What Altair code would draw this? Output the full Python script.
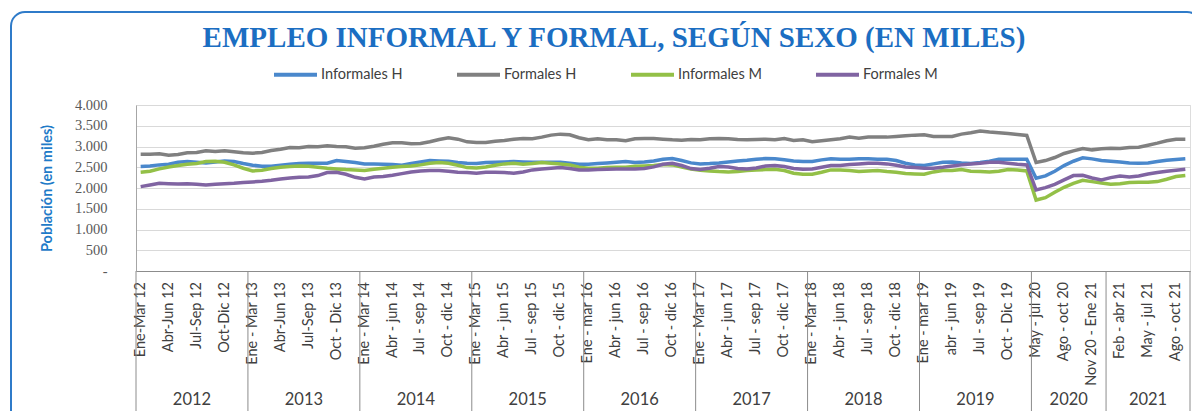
import altair as alt
import pandas as pd

TITLE = "EMPLEO INFORMAL Y FORMAL, SEGÚN SEXO (EN MILES)"
Y_TITLE = "Población (en miles)"

SERIES = ["Informales H", "Formales H", "Informales M", "Formales M"]
COLORS = ["#4A88CC", "#808080", "#93C047", "#8064A2"]

PERIODS = [
    # 2012
    "Ene-Mar 12", "Feb-Abr 12", "Mar-May 12", "Abr-Jun 12", "May-Jul 12", "Jun-Ago 12",
    "Jul-Sep 12", "Ago-Oct 12", "Sep-Nov 12", "Oct-Dic 12", "Nov 12-Ene 13", "Dic 12-Feb 13",
    # 2013
    "Ene - Mar 13", "Feb-Abr 13", "Mar-May 13", "Abr-Jun 13", "May-Jul 13", "Jun-Ago 13",
    "Jul-Sep 13", "Ago-Oct 13", "Sep-Nov 13", "Oct - Dic 13", "Nov 13-Ene 14", "Dic 13-Feb 14",
    # 2014
    "Ene - Mar 14", "Feb-Abr 14", "Mar-May 14", "Abr - jun 14", "May-Jul 14", "Jun-Ago 14",
    "Jul - sep 14", "Ago-Oct 14", "Sep-Nov 14", "Oct - dic 14", "Nov 14-Ene 15", "Dic 14-Feb 15",
    # 2015
    "Ene - Mar 15", "Feb-Abr 15", "Mar-May 15", "Abr - jun 15", "May-Jul 15", "Jun-Ago 15",
    "Jul - sep 15", "Ago-Oct 15", "Sep-Nov 15", "Oct - dic 15", "Nov 15-Ene 16", "Dic 15-Feb 16",
    # 2016
    "Ene - mar 16", "Feb-Abr 16", "Mar-May 16", "Abr - jun 16", "May-Jul 16", "Jun-Ago 16",
    "Jul - sep 16", "Ago-Oct 16", "Sep-Nov 16", "Oct - dic 16", "Nov 16-Ene 17", "Dic 16-Feb 17",
    # 2017
    "Ene - Mar 17", "Feb-Abr 17", "Mar-May 17", "Abr - jun 17", "May-Jul 17", "Jun-Ago 17",
    "Jul - sep 17", "Ago-Oct 17", "Sep-Nov 17", "Oct - dic 17", "Nov 17-Ene 18", "Dic 17-Feb 18",
    # 2018
    "Ene - Mar 18", "Feb-Abr 18", "Mar-May 18", "Abr - jun 18", "May-Jul 18", "Jun-Ago 18",
    "Jul - sep 18", "Ago-Oct 18", "Sep-Nov 18", "Oct - dic 18", "Nov 18-Ene 19", "Dic 18-Feb 19",
    # 2019
    "Ene - mar 19", "Feb-Abr 19", "Mar-May 19", "abr - jun 19", "May-Jul 19", "Jun-Ago 19",
    "Jul - sep 19", "Ago-Oct 19", "Sep-Nov 19", "Oct - Dic 19", "Nov 19-Ene 20", "Dic 19-Feb 20",
    # 2020
    "May - jul 20", "Jun-Ago 20", "Jul-Sep 20", "Ago - oct 20", "Sep-Nov 20", "Oct-Dic 20",
    "Nov 20 - Ene 21", "Dic 20-Feb 21",
    # 2021
    "Ene-Mar 21", "Feb - abr 21", "Mar-May 21", "Abr-Jun 21", "May - jul 21", "Jun-Ago 21",
    "Jul-Sep 21", "Ago - oct 21", "Sep-Nov 21",
]

TICK_LABELS = [
    "Ene-Mar 12", "Abr-Jun 12", "Jul-Sep 12", "Oct-Dic 12",
    "Ene - Mar 13", "Abr-Jun 13", "Jul-Sep 13", "Oct - Dic 13",
    "Ene - Mar 14", "Abr - jun 14", "Jul - sep 14", "Oct - dic 14",
    "Ene - Mar 15", "Abr - jun 15", "Jul - sep 15", "Oct - dic 15",
    "Ene - mar 16", "Abr - jun 16", "Jul - sep 16", "Oct - dic 16",
    "Ene - Mar 17", "Abr - jun 17", "Jul - sep 17", "Oct - dic 17",
    "Ene - Mar 18", "Abr - jun 18", "Jul - sep 18", "Oct - dic 18",
    "Ene - mar 19", "abr - jun 19", "Jul - sep 19", "Oct - Dic 19",
    "May - jul 20", "Ago - oct 20", "Nov 20 - Ene 21",
    "Feb - abr 21", "May - jul 21", "Ago - oct 21",
]

YEARS = ["2012", "2013", "2014", "2015", "2016", "2017", "2018", "2019", "2020", "2021"]
YEAR_FIRST_PERIOD = ["Ene-Mar 12", "Ene - Mar 13", "Ene - Mar 14", "Ene - Mar 15", "Ene - mar 16",
                     "Ene - Mar 17", "Ene - Mar 18", "Ene - mar 19", "May - jul 20", "Ene-Mar 21"]

INFORMALES_H = [
    2516, 2532, 2557, 2573, 2621, 2637, 2621, 2605, 2629, 2653, 2637, 2589,
    2549, 2524, 2524, 2549, 2573, 2589, 2597, 2597, 2597, 2661, 2637, 2613,
    2581, 2581, 2573, 2565, 2549, 2589, 2629, 2661, 2653, 2645, 2613, 2597,
    2589, 2613, 2621, 2629, 2637, 2629, 2621, 2621, 2621, 2621, 2597, 2573,
    2573, 2589, 2605, 2621, 2637, 2613, 2629, 2653, 2694, 2710, 2661, 2605,
    2581, 2589, 2605, 2629, 2653, 2669, 2694, 2710, 2702, 2678, 2653, 2637,
    2637, 2678, 2702, 2694, 2694, 2702, 2702, 2694, 2694, 2661, 2597, 2557,
    2541, 2581, 2621, 2629, 2605, 2589, 2613, 2645, 2694, 2694, 2694, 2694,
    2234, 2291, 2404, 2541, 2645, 2726, 2702, 2661,
    2645, 2629, 2605, 2597, 2605, 2637, 2669, 2686, 2702,
]
FORMALES_H = [
    2815, 2815, 2823, 2790, 2806, 2847, 2855, 2895, 2879, 2895, 2871, 2847,
    2839, 2855, 2903, 2935, 2976, 2968, 3000, 2992, 3016, 3000, 2992, 2960,
    2968, 3008, 3056, 3089, 3089, 3064, 3073, 3113, 3169, 3210, 3177, 3113,
    3097, 3097, 3129, 3145, 3177, 3193, 3185, 3226, 3274, 3298, 3282, 3210,
    3161, 3185, 3161, 3161, 3137, 3185, 3193, 3193, 3177, 3161, 3153, 3169,
    3161, 3185, 3193, 3185, 3169, 3161, 3169, 3177, 3161, 3193, 3145, 3161,
    3113, 3137, 3161, 3185, 3226, 3201, 3226, 3226, 3226, 3242, 3258, 3274,
    3282, 3242, 3242, 3242, 3298, 3330, 3371, 3347, 3330, 3314, 3290, 3266,
    2613, 2661, 2734, 2831, 2895, 2952, 2919, 2944,
    2960, 2952, 2976, 2984, 3032, 3081, 3137, 3177, 3177,
]
INFORMALES_M = [
    2379, 2404, 2460, 2508, 2541, 2573, 2589, 2637, 2645, 2621, 2557, 2476,
    2412, 2428, 2468, 2500, 2516, 2532, 2524, 2500, 2476, 2460, 2444, 2436,
    2420, 2452, 2476, 2500, 2516, 2532, 2557, 2597, 2613, 2597, 2549, 2492,
    2484, 2508, 2549, 2581, 2597, 2573, 2589, 2613, 2597, 2581, 2557, 2500,
    2476, 2476, 2492, 2500, 2500, 2524, 2532, 2541, 2565, 2557, 2508, 2460,
    2428, 2412, 2396, 2388, 2396, 2420, 2436, 2444, 2452, 2420, 2355, 2331,
    2331, 2379, 2436, 2436, 2420, 2396, 2412, 2420, 2396, 2379, 2347, 2339,
    2331, 2388, 2420, 2420, 2444, 2404, 2396, 2388, 2404, 2444, 2436, 2412,
    1710, 1767, 1896, 2017, 2113, 2186, 2154, 2122,
    2089, 2105, 2130, 2138, 2138, 2154, 2210, 2275, 2299,
]
FORMALES_M = [
    2033, 2073, 2113, 2105, 2097, 2105, 2089, 2073, 2089, 2105, 2113, 2130,
    2146, 2162, 2186, 2218, 2242, 2258, 2266, 2299, 2371, 2379, 2331, 2258,
    2218, 2266, 2275, 2307, 2347, 2387, 2412, 2420, 2420, 2404, 2379, 2371,
    2355, 2379, 2379, 2371, 2355, 2387, 2436, 2460, 2476, 2492, 2468, 2436,
    2436, 2444, 2452, 2460, 2460, 2460, 2468, 2508, 2573, 2597, 2541, 2468,
    2444, 2476, 2516, 2508, 2468, 2460, 2484, 2532, 2541, 2516, 2468, 2452,
    2460, 2500, 2541, 2541, 2565, 2581, 2597, 2597, 2581, 2549, 2508, 2492,
    2476, 2476, 2500, 2532, 2557, 2581, 2597, 2621, 2621, 2597, 2573, 2557,
    1952, 2009, 2089, 2194, 2299, 2307, 2242, 2194,
    2250, 2291, 2266, 2291, 2339, 2371, 2404, 2428, 2452,
]

Y_TICKS = [0, 500, 1000, 1500, 2000, 2500, 3000, 3500, 4000]

# ---------- tables ----------
n = len(PERIODS)
rows = []
for name, vals in zip(SERIES, [INFORMALES_H, FORMALES_H, INFORMALES_M, FORMALES_M]):
    for i, v in enumerate(vals):
        rows.append({"idx": i, "periodo": PERIODS[i], "serie": name, "valor": v})
df = pd.DataFrame(rows)

ticks_df = pd.DataFrame({
    "idx": [PERIODS.index(t) for t in TICK_LABELS],
    "lab": TICK_LABELS,
})

starts = [PERIODS.index(p) for p in YEAR_FIRST_PERIOD]
bounds = [s - 0.5 for s in starts] + [n - 0.5]
years_df = pd.DataFrame({
    "year": YEARS,
    "mid": [(bounds[k] + bounds[k + 1]) / 2 for k in range(len(YEARS))],
})
bounds_df = pd.DataFrame({"b": bounds})

W, H = 1054, 166
xscale = alt.Scale(domain=[-0.5, n - 0.5], nice=False, zero=False)
yscale = alt.Scale(domain=[0, 4000], nice=False)

x_axis = alt.Axis(
    values=[PERIODS.index(t) for t in TICK_LABELS], labels=False,
    ticks=False, tickSize=0, grid=False, title=None,
    domainColor="#8c8c8c", domainWidth=1,
)
y_axis = alt.Axis(
    values=Y_TICKS,
    labelExpr="datum.value == 0 ? '-' : replace(format(datum.value, ','), ',', '.')",
    labelFont="Liberation Serif", labelFontSize=14.5, labelColor="#595959",
    labelPadding=29, ticks=False, tickSize=0, grid=True, gridColor="#d9d9d9",
    gridWidth=1.2, domainColor="#a6a6a6", domainWidth=1,
    title=Y_TITLE, titleFont="Lato", titleFontSize=14.5, titleFontWeight="bold",
    titleColor="#1F7BC8", titleAngle=-90, titleX=-89, titleY=H / 2,
    titleAlign="center", titleBaseline="middle",
)

one = pd.DataFrame({"t": [TITLE]})

frame = alt.Chart(one).mark_rect(
    fillOpacity=0, stroke="#2F7BC9", strokeWidth=2, cornerRadius=14
).encode(
    x=alt.value(-125), x2=alt.value(1065), y=alt.value(-93), y2=alt.value(340)
)

title = alt.Chart(one).mark_text(
    font="Liberation Serif", fontSize=29, fontWeight="bold", color="#1B6EC2",
    align="center", baseline="middle"
).encode(text="t:N", x=alt.value(478), y=alt.value(-67))

lines = alt.Chart(df).mark_line(strokeWidth=3.5).encode(
    x=alt.X("idx:Q", scale=xscale, axis=x_axis),
    y=alt.Y("valor:Q", scale=yscale, axis=y_axis),
    color=alt.Color(
        "serie:N",
        scale=alt.Scale(domain=SERIES, range=COLORS),
        sort=SERIES,
        legend=alt.Legend(
            title=None, orient="none", legendX=136, legendY=-54,
            direction="horizontal", columns=4, symbolType="stroke",
            symbolStrokeWidth=4, symbolSize=1849, labelFont="Lato",
            labelFontSize=14.5, labelColor="#404040", labelOffset=2,
            columnPadding=46,
        ),
    ),
    order=alt.Order("idx:Q"),
)

month_text = alt.Chart(ticks_df).mark_text(
    font="Lato", fontSize=14.5, color="#404040", angle=270,
    align="right", baseline="middle"
).encode(x=alt.X("idx:Q", scale=xscale), y=alt.value(H + 11), text="lab:N")

year_rules = alt.Chart(bounds_df).mark_rule(color="#8c8c8c", strokeWidth=1).encode(
    x=alt.X("b:Q", scale=xscale), y=alt.value(H), y2=alt.value(H + 150)
)

year_text = alt.Chart(years_df).mark_text(
    font="Lato", fontSize=16.5, color="#404040", align="center", baseline="middle"
).encode(x=alt.X("mid:Q", scale=xscale), y=alt.value(295), text="year:N")

chart = alt.layer(frame, lines, month_text, year_rules, year_text, title).properties(
    width=W, height=H,
    autosize=alt.AutoSizeParams(type="none"),
    padding={"left": 128, "top": 97, "right": 2, "bottom": 140},
).configure_view(stroke=None).configure(background="white")

chart.save("out.html", embed_options={"renderer": "svg", "actions": False})
